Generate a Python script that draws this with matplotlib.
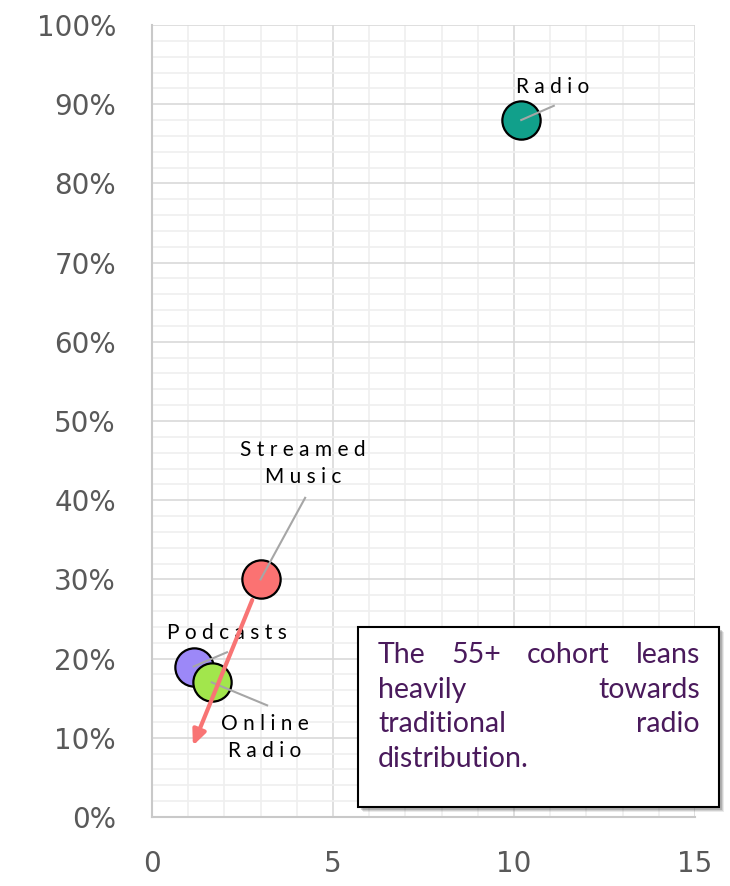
import matplotlib.pyplot as plt
from matplotlib.patches import Rectangle
from matplotlib.ticker import MultipleLocator, FuncFormatter

plt.rcParams['font.family'] = ['Lato', 'DejaVu Sans']

# data
names = ["Radio", "Streamed Music", "Podcasts", "Online Radio"]
xs = [10.2, 3.0, 1.15, 1.65]
ys = [88, 30, 19, 17]
colors = ["#11A08B", "#FB7272", "#9C88F8", "#A2E64C"]
label_text = ["Radio", "Streamed\nMusic", "Podcasts", "Online\nRadio"]
label_pos = [(11.08, 92.2), (4.17, 44.6), (2.07, 23.2), (3.12, 10.0)]
leader_end = [(11.1, 89.8), (4.23, 40.3), (2.07, 20.8), (3.18, 14.1)]
arrow_tip = (1.13, 9.0)
note_lines = [["The", "55+", "cohort", "leans"],
              ["heavily", "towards"],
              ["traditional", "radio"],
              ["distribution."]]

fig = plt.figure(figsize=(7.3, 8.86), dpi=100)
ax = fig.add_axes([152/730, 69/886, 543/730, 792/886])

ax.set_xlim(0, 15)
ax.set_ylim(0, 100)
ax.xaxis.set_major_locator(MultipleLocator(5))
ax.xaxis.set_minor_locator(MultipleLocator(1))
ax.yaxis.set_major_locator(MultipleLocator(10))
ax.yaxis.set_minor_locator(MultipleLocator(2))
ax.yaxis.set_major_formatter(FuncFormatter(lambda v, p: f"{v:.0f}%"))
ax.grid(which='major', color='#D9D9D9', lw=1.2)
ax.grid(which='minor', color='#EFEFEF', lw=1.2)
ax.set_axisbelow(True)
for s in ['top', 'right']:
    ax.spines[s].set_visible(False)
for s in ['left', 'bottom']:
    ax.spines[s].set_color('#C9C9C9')
    ax.spines[s].set_linewidth(1.5)
ax.tick_params(which='both', length=0)
ax.tick_params(axis='y', pad=26, labelsize=20, labelcolor='#595959')
ax.tick_params(axis='x', pad=24, labelsize=20, labelcolor='#595959')
ax.yaxis.set_tick_params(labelfontfamily='DejaVu Sans')
ax.xaxis.set_tick_params(labelfontfamily='DejaVu Sans')

# points, in order so Online Radio sits on Podcasts
for i in range(len(names)):
    ax.scatter(xs[i], ys[i], s=760, color=colors[i], edgecolor='black',
               linewidth=1.6, zorder=3 + i * 0.1, clip_on=False)

def spaced(t):
    return "\n".join(" ".join(list(line)) for line in t.split("\n"))

for i in range(len(names)):
    ax.plot([xs[i], leader_end[i][0]], [ys[i], leader_end[i][1]],
            color='#A6A6A6', lw=1.5, zorder=5)
    ax.text(label_pos[i][0], label_pos[i][1], spaced(label_text[i]),
            ha='center', va='center', fontsize=15, color='black',
            linespacing=1.45, zorder=6)

# arrow from streamed music down to bottom-left
ax.annotate("", xy=arrow_tip, xytext=(xs[1], ys[1]),
            arrowprops=dict(arrowstyle='-|>,head_length=0.9,head_width=0.4',
                            color='#F87474', lw=3, shrinkA=16, shrinkB=0),
            zorder=7)

# note box
W, H = 730, 886
bx0, by0, bx1, by1 = 358, 627, 719, 807
for k, a in [(5, 0.12), (4, 0.18), (3, 0.25)]:
    fig.patches.append(Rectangle(((bx0 + k) / W, 1 - (by1 + k) / H), (bx1 - bx0) / W,
                                 (by1 - by0) / H, transform=fig.transFigure,
                                 facecolor='#555555', edgecolor='none', alpha=a, zorder=8))
fig.patches.append(Rectangle((bx0 / W, 1 - by1 / H), (bx1 - bx0) / W, (by1 - by0) / H,
                             transform=fig.transFigure, facecolor='white',
                             edgecolor='black', lw=1.5, zorder=9))

fig.canvas.draw()
renderer = fig.canvas.get_renderer()
tx0, tx1 = 378, 700
line_y = [655, 690, 724, 759]
for words, yy in zip(note_lines, line_y):
    arts = [fig.text(0, 1 - yy / H, w, fontsize=20.5, color='#4A1A5C', va='center',
                     zorder=10) for w in words]
    widths = [a.get_window_extent(renderer).width for a in arts]
    if len(words) > 1 and words[-1] != "distribution.":
        gap = (tx1 - tx0 - sum(widths)) / (len(words) - 1)
    else:
        gap = 6
    x = tx0
    for a, w in zip(arts, widths):
        a.set_x(x / W)
        x += w + gap

fig.savefig("out.png", dpi=100)
